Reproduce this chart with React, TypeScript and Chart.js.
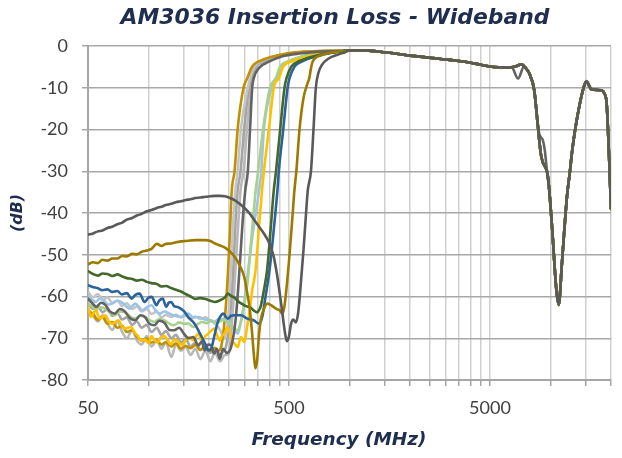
import { useEffect, useRef } from 'react';
import { Chart, registerables } from 'chart.js';

Chart.register(...registerables);

// ---------- texts ----------
const chartTitle = 'AM3036 Insertion Loss - Wideband';
const xAxisTitle = 'Frequency (MHz)';
const yAxisTitle = '(dB)';

// ---------- axes ----------
const xMin = 50;
const xMax = 20000;
const xGridValues = [50, 100, 150, 200, 250, 300, 350, 400, 450, 500, 1000, 1500, 2000, 2500, 3000, 3500, 4000, 4500, 5000, 10000, 15000, 20000];
const xLabelValues = [50, 500, 5000];
const yMin = -80;
const yMax = 0;
const yStep = 10;

type Pt = [number, number];

// ---------- shared upper band (all units nearly identical above ~1 GHz) ----------
const passbandShared: Pt[] = [
  [1000, -1.05], [1120, -1.0], [1250, -1.1], [1500, -1.5], [1750, -1.9], [2000, -2.3], [2300, -2.6], [2600, -2.9],
  [3000, -3.2], [3500, -3.6], [4000, -4.0], [4500, -4.5], [5000, -4.9], [5600, -5.1], [6200, -5.2], [6700, -4.9],
  [7155, -4.4], [7500, -5.2], [7850, -6.6], [8300, -10.6], [8630, -18.6], [8790, -22.5], [8950, -25.8], [9150, -27.8],
  [9370, -28.8], [9650, -30.5], [9830, -33.8], [10200, -44], [10700, -58.5], [10990, -62], [11400, -52], [12080, -36],
  [12500, -30], [12770, -25.8], [13500, -17.8], [14830, -9.0], [15110, -8.6], [15980, -10.4], [17870, -10.6],
  [18550, -11.4], [19030, -13.8], [19620, -28], [20000, -39],
];
const passbandAlt: Pt[] = [
  [1000, -1.05], [1120, -1.0], [1250, -1.1], [1500, -1.5], [1750, -1.9], [2000, -2.3], [2300, -2.6], [2600, -2.9],
  [3000, -3.2], [3500, -3.6], [4000, -4.0], [4500, -4.5], [5000, -4.9], [5600, -5.1], [6400, -5.1], [6900, -7.8],
  [7370, -5.0], [7600, -5.6], [7900, -6.9], [8300, -10.6], [8630, -18.2], [8790, -21], [8950, -21.8], [9150, -22.5],
  [9370, -25], [9650, -31], [9830, -33.8], [10200, -44], [10700, -58.5], [10990, -62], [11400, -52], [12080, -36],
  [12500, -30], [12770, -25.8], [13500, -17.8], [14830, -9.0], [15110, -8.4], [15980, -10.2], [17870, -10.6],
  [18550, -11.4], [19030, -13.8], [19620, -28], [20000, -39],
];

// ---------- per-unit lower band / cut-off edge ----------
const darkGrayRight: Pt[] = [
  [50, -45.2], [53, -44.9], [56, -44.4], [59, -44.2], [62.5, -43.6], [66, -43.3], [70, -42.7], [74, -42.3], [78, -41.6],
  [83, -41.2], [87.5, -40.6], [92.5, -40.2], [98, -39.6], [103.5, -39.3], [110, -38.8], [116, -38.5], [122, -38.1],
  [130, -37.8], [137, -37.4], [145, -37.2], [153, -36.9], [162, -36.7], [171, -36.4], [181, -36.3], [192, -36.1],
  [203, -36.0], [214, -35.9], [227, -35.9], [240, -36.0], [254, -36.4], [268, -36.9], [284, -37.8], [300, -38.8],
  [317, -40.0], [335, -41.6], [355, -43.3], [375, -44.9], [397, -47.0], [420, -50.5], [435, -54.5], [450, -59.3],
  [465, -64.5], [478, -68.8], [488, -70.7], [500, -69.5], [512, -66.5], [525, -65.5], [540, -66.2], [555, -64],
  [570, -58], [590, -49], [608, -40], [620, -34.6], [643, -30], [662, -20], [680, -10], [700, -6.5], [730, -4.5],
  [787, -3.0], [883, -2.0], [950, -1.5],
];
const darkGoldRight: Pt[] = [
  [50, -52.3], [53, -51.8], [56, -52.0], [59, -51.2], [62.5, -51.4], [66, -50.9], [70, -50.9], [74, -50.3], [78, -50.4],
  [83, -49.8], [87.5, -49.9], [92.5, -49.3], [98, -49.0], [103.5, -48.6], [110, -47.4], [116, -47.9], [122, -47.4],
  [130, -47.3], [137, -47.0], [145, -46.8], [153, -46.7], [162, -46.6], [171, -46.5], [181, -46.5], [192, -46.5],
  [203, -46.7], [214, -47.3], [227, -47.8], [240, -48.3], [254, -49.2], [268, -50.5], [284, -52.5], [300, -55.5],
  [308, -58.5], [318, -62.5], [328, -69], [334, -73.7], [340, -77.2], [347, -75.3], [355, -69], [362, -65.5],
  [375, -63.0], [389, -61.7], [405, -62.0], [419, -62.5], [435, -63.0], [450, -63.3], [462, -64.1], [474, -62.5],
  [486, -58], [503, -50], [520, -41], [532, -34.6], [544, -30], [564, -20], [590, -12.5], [620, -8.8], [631, -7.7],
  [645, -5], [656, -3.7], [690, -2.6], [734, -2.1], [800, -1.6], [883, -1.35], [950, -1.2],
];
const darkGreen: Pt[] = [
  [50, -53.9], [53, -54.6], [56, -55.0], [59, -54.5], [62.5, -54.6], [66, -55.1], [70, -54.7], [74, -55.2], [78, -55.6],
  [83, -55.8], [87.5, -56.2], [92.5, -56.0], [98, -56.5], [103.5, -56.8], [110, -57.0], [116, -57.6], [122, -57.5],
  [130, -58.0], [137, -58.4], [145, -58.8], [153, -59.4], [162, -60.0], [171, -60.6], [181, -60.4], [192, -60.6],
  [203, -61.0], [214, -61.3], [227, -60.9], [240, -60.2], [248, -59.3], [258, -59.9], [268, -60.3], [280, -61.2],
  [290, -61.7], [305, -62.3], [323, -62.7], [335, -63.4], [347, -63.8], [355, -63.2], [362, -62.3], [375, -58.5],
  [389, -53.7], [405, -44], [420, -34.6], [431, -30], [452, -20], [475, -10], [486, -7.7], [514, -4.9], [564, -3.6],
  [656, -2.5], [761, -1.8], [900, -1.3],
];
const blue: Pt[] = [
  [50, -57.3], [52.7, -57.7], [56, -58.0], [58.9, -58.5], [62.5, -58.3], [66, -58.9], [70, -58.7], [73.6, -59.5],
  [78, -59.2], [82.4, -60.5], [86, -59.6], [90.3, -59.3], [95.5, -61.3], [100, -60.3], [103.6, -60.1], [109.6, -62.1],
  [113, -61.0], [117.6, -60.5], [122.6, -62.5], [126, -61.5], [129.8, -61.3], [134, -62.3], [139.7, -62.5], [150, -63.5],
  [158, -65.0], [168, -66.3], [177, -68.1], [184, -69.7], [191, -71.2], [198, -72.9], [205, -72.5], [212, -69.7],
  [220, -66.5], [227, -64.9], [235, -64.1], [248, -65.3], [258, -64.6], [268, -64.5], [289, -64.5], [310, -65.3],
  [334, -65.7], [354, -66.5], [368, -64.9], [382, -60.1], [400, -53.7], [420, -44], [438, -34.6], [445, -30],
  [468, -20], [492, -10], [503, -7.7], [533, -4.9], [586, -3.6], [680, -2.5], [780, -1.8], [900, -1.3],
];
const lightGreen: Pt[] = [
  [50, -61.7], [53, -62.5], [54.6, -63.3], [57, -62.6], [61, -62.9], [64, -63.8], [68, -64.5], [72, -63.6], [76, -63.7],
  [81, -64.8], [86, -65.3], [91, -64.6], [96, -64.9], [101, -65.6], [107, -66.1], [113, -65.4], [120, -65.7],
  [127, -66.5], [134, -66.9], [142, -66.2], [150, -66.5], [158, -66.5], [167, -67.3], [176, -66.6], [184, -66.1],
  [195, -66.4], [205, -65.7], [214, -66.1], [222, -66.1], [230, -65.8], [238, -65.7], [246, -66.0], [254, -66.5],
  [262, -67.2], [268, -67.7], [278, -68.1], [289, -65.7], [300, -61.7], [310.5, -56.9], [325, -46], [341.5, -34.6],
  [351, -30], [371.5, -20], [402, -10], [430, -7.7], [452, -4.9], [494, -3.7], [575, -2.5], [694, -1.75], [850, -1.35],
];
const lightBlue: Pt[] = [
  [50, -59.7], [52, -60.6], [54.6, -61.3], [57.4, -60.5], [60, -61.0], [63, -61.9], [66, -61.7], [70, -61.0], [73, -61.3],
  [77, -62.2], [80, -62.9], [83, -62.3], [86, -61.7], [90, -62.6], [93, -63.3], [98, -62.6], [103.5, -62.1], [108, -63.2],
  [113, -64.1], [120, -63.6], [127, -64.1], [135, -64.6], [145, -64.9], [152, -64.3], [158, -64.1], [167, -65.0],
  [177, -64.9], [188, -65.4], [198, -65.7], [212, -66.1], [226, -65.3], [237, -65.5], [248, -65.7], [258, -66.8],
  [268, -68.1], [278, -68.9], [286, -66.9], [297, -62.5], [307, -56.9], [330, -45], [355, -34.6], [364, -30],
  [375, -20], [411, -10], [435, -7.7], [460, -4.9], [503, -3.7], [588, -2.5], [700, -1.75], [850, -1.35],
];
const yellow: Pt[] = [
  [50, -62.5], [51.7, -64.9], [54.6, -63.3], [57.4, -65.3], [61, -64.5], [63.5, -66.0], [66, -66.5], [70.9, -65.7],
  [73.5, -67.0], [76, -67.7], [82, -67.3], [85, -68.5], [88, -69.3], [92, -70.6], [96, -70.3], [100, -71.2],
  [103.5, -69.5], [107, -70.4], [111, -71.0], [115, -69.8], [120, -69.5], [125, -70.6], [129, -71.5], [134, -70.4],
  [139, -70.5], [145, -71.6], [150, -71.2], [158, -69.7], [167, -70.5], [177, -68.9], [184, -70.5], [191, -69.6],
  [198, -68.9], [205, -68.2], [212, -67.7], [219, -69.2], [226, -70.5], [232, -69.5], [238, -68.9], [248, -67.3],
  [257, -69.7], [263, -70.8], [270, -71.5], [278, -72.1], [288, -69.7], [294, -70.3], [300, -70.9], [310, -67],
  [317, -64.1], [328, -58.5], [341, -53.7], [355, -43], [367, -34.6], [375, -30], [397, -20], [420, -10], [445, -7.7],
  [468, -4.9], [514, -3.7], [598, -2.8], [700, -2.0], [850, -1.5],
];
const goldLeft: Pt[] = [
  [50, -63.6], [53, -64.2], [56, -65.6], [59, -64.9], [62.5, -66.5], [66, -66.1], [70, -67.5], [74, -67.0], [78, -68.5],
  [83, -68.1], [87.5, -69.6], [92.5, -70.5], [98, -70.1], [103.5, -71.0], [110, -70.6], [116, -71.5], [122, -70.9],
  [130, -72.0], [137, -71.2], [145, -72.5], [153, -71.8], [162, -72.4], [171, -71.6], [181, -72.8], [192, -72.1],
  [203, -73.0], [214, -72.3], [222, -73.0], [230, -72.0], [240, -65], [248, -55], [254, -45], [259.6, -34.6],
  [268, -30], [277.6, -20], [297, -10], [310, -7.7], [328, -4.9], [354, -3.7], [416, -2.5], [494, -1.75], [598, -1.35],
  [716, -1.2], [850, -1.15],
];
const lightGray1: Pt[] = [
  [50, -58.8], [53, -60.2], [56, -59.4], [59, -60.8], [62.5, -60.2], [66, -61.5], [70, -61.0], [74, -62.3], [78, -61.6],
  [83, -63.0], [87.5, -62.4], [92.5, -63.6], [98, -63.0], [103.5, -64.2], [110, -63.6], [116, -65.0], [122, -64.4],
  [130, -64.9], [137, -64.3], [145, -65.0], [153, -64.6], [162, -65.3], [171, -64.8], [181, -65.4], [192, -65.0],
  [203, -65.8], [214, -66.5], [227, -68.0], [238, -70.0], [248, -66], [258, -52], [264, -42], [270.6, -34.6],
  [277.6, -30], [288, -20], [312, -10], [320, -7.7], [336, -5], [360, -3.7], [420, -2.5], [510, -1.75], [610, -1.35],
  [716, -1.2], [850, -1.15],
];
const gray: Pt[] = [
  [50, -61.5], [53, -63.0], [56, -62.2], [59, -63.8], [62.5, -63.0], [66, -64.6], [70, -64.0], [74, -65.5], [78, -65.0],
  [83, -66.8], [87.5, -66.0], [92.5, -67.5], [98, -66.8], [103.5, -68.5], [110, -67.5], [116, -69.2], [122, -68.3],
  [130, -70.0], [137, -69.2], [145, -71.0], [153, -70.2], [162, -72.0], [171, -71.0], [181, -72.8], [192, -71.8],
  [203, -73.5], [214, -72.5], [227, -74.0], [236, -73.0], [243, -72], [254, -65], [265, -52], [271, -42],
  [277.6, -34.6], [287, -30], [299, -20], [316, -10], [325, -7.7], [340, -5], [370, -3.7], [430, -2.5], [530, -1.75],
  [620, -1.35], [730, -1.2], [850, -1.15],
];
const lightGray2: Pt[] = [
  [50, -63.0], [53, -64.5], [56, -66.0], [59, -64.5], [62.5, -66.5], [66, -68.0], [70, -66.0], [74, -68.5], [78, -70.0],
  [83, -68.0], [87.5, -70.5], [92.5, -71.5], [98, -69.5], [103.5, -72.0], [110, -70.5], [116, -72.5], [122, -71.0],
  [130, -74.5], [137, -71.5], [145, -73.0], [153, -72.0], [162, -74.0], [171, -72.5], [181, -75.0], [192, -73.0],
  [203, -75.5], [214, -73.5], [227, -75.5], [240, -74.0], [250, -74.0], [262, -64], [272, -52], [280, -42],
  [287, -34.6], [297, -30], [309, -20], [323, -10], [330, -7.7], [345, -5], [380, -3.7], [440, -2.5], [550, -1.75],
  [640, -1.4], [740, -1.25], [850, -1.15],
];
const darkGrayLeft: Pt[] = [
  [50, -60.5], [53, -61.8], [55, -62.5], [58, -61.5], [61, -62.0], [64, -63.5], [68, -64.1], [72, -63.0], [76, -63.5],
  [81, -65.2], [86, -65.7], [91, -64.5], [96, -64.9], [101, -66.5], [107, -66.9], [113, -65.8], [120, -66.3],
  [127, -68.0], [134, -68.1], [142, -67.5], [150, -68.9], [158, -70.0], [167, -69.7], [177, -71.7], [184, -70.8],
  [190, -72.9], [198, -71.5], [205, -71.7], [212, -73.7], [219, -72.5], [226, -74.9], [235, -72.5], [245, -73.5],
  [258, -72], [272, -65], [285, -52], [294, -42], [303, -34.6], [312, -30], [320, -20], [328, -10], [334, -7.7],
  [354, -5.3], [400, -3.7], [460, -2.5], [575, -1.75], [680, -1.4], [761, -1.3], [880, -1.2],
];

// Chart.js paints the first dataset on top, so the list runs from top-most to bottom-most.
const seriesList = [
  { name: 'Unit 12', color: '#595959', low: darkGrayRight, high: passbandShared },
  { name: 'Unit 11', color: '#9C7A00', low: darkGoldRight, high: passbandShared },
  { name: 'Unit 10', color: '#43682B', low: darkGreen, high: passbandShared },
  { name: 'Unit 9', color: '#2B6299', low: blue, high: passbandShared },
  { name: 'Unit 8', color: '#636363', low: darkGrayLeft, high: passbandAlt },
  { name: 'Unit 7', color: '#FFC000', low: yellow, high: passbandShared },
  { name: 'Unit 6', color: '#A9D18E', low: lightGreen, high: passbandShared },
  { name: 'Unit 5', color: '#9DC3E6', low: lightBlue, high: passbandShared },
  { name: 'Unit 4', color: '#BF9000', low: goldLeft, high: passbandShared },
  { name: 'Unit 3', color: '#C4C4C4', low: lightGray1, high: passbandShared },
  { name: 'Unit 2', color: '#A5A5A5', low: gray, high: passbandShared },
  { name: 'Unit 1', color: '#B8B8B8', low: lightGray2, high: passbandShared },
];

const TITLE_FONT = '"DejaVu Sans"';
const TICK_FONT = 'Lato';
const TITLE_COLOR = '#1F2D4E';

function fitText(ctx: CanvasRenderingContext2D, text: string, x: number, y: number, targetWidth: number, baseSize: number) {
  ctx.font = `italic bold ${baseSize}px ${TITLE_FONT}`;
  const w = ctx.measureText(text).width;
  const size = (baseSize * targetWidth) / w;
  ctx.font = `italic bold ${size}px ${TITLE_FONT}`;
  ctx.fillText(text, x, y);
}

const titlesPlugin = {
  id: 'customTitles',
  afterDraw(chart: Chart) {
    const ctx = chart.ctx;
    ctx.save();
    ctx.fillStyle = TITLE_COLOR;
    ctx.textAlign = 'center';
    ctx.textBaseline = 'middle';
    fitText(ctx, chartTitle, 335, 18, 429, 22);
    fitText(ctx, xAxisTitle, 339, 440, 175, 19);
    ctx.translate(18, 213);
    ctx.rotate(-Math.PI / 2);
    fitText(ctx, yAxisTitle, 0, 0, 38, 19);
    ctx.restore();
  },
};

export default function App() {
  const ref = useRef<HTMLCanvasElement>(null);
  useEffect(() => {
    const canvas = ref.current;
    if (!canvas) return;
    const chart = new Chart(canvas, {
      type: 'line',
      data: {
        datasets: seriesList.map((s) => ({
          label: s.name,
          data: [...s.low, ...s.high].map(([x, y]) => ({ x, y })),
          borderColor: s.color,
          backgroundColor: s.color,
          borderWidth: 2.6,
          pointRadius: 0,
          fill: false,
          cubicInterpolationMode: 'monotone' as const,
          borderJoinStyle: 'round' as const,
          borderCapStyle: 'round' as const,
        })),
      },
      options: {
        responsive: false,
        animation: false,
        devicePixelRatio: 1,
        layout: { padding: { top: 46, right: 1, bottom: 0, left: 0 } },
        plugins: {
          legend: { display: false },
          title: { display: false },
          tooltip: { enabled: false },
        },
        scales: {
          x: {
            type: 'logarithmic',
            min: xMin,
            max: xMax,
            position: 'bottom',
            afterBuildTicks: (scale: any) => {
              scale.ticks = xGridValues.map((v) => ({ value: v }));
            },
            afterFit: (scale: any) => {
              scale.height = 78;
            },
            ticks: {
              autoSkip: false,
              maxRotation: 0,
              minRotation: 0,
              padding: 11,
              color: '#404040',
              font: { family: TICK_FONT, size: 18 },
              callback: (v: any) => (xLabelValues.includes(Number(v)) ? String(v) : ''),
            },
            grid: { color: '#D0D0D0', lineWidth: 1.5, tickLength: 6, tickColor: '#A6A6A6' },
            border: { color: '#A6A6A6', width: 2 },
          },
          y: {
            type: 'linear',
            min: yMin,
            max: yMax,
            position: 'left',
            afterFit: (scale: any) => {
              scale.width = 88;
            },
            ticks: {
              stepSize: yStep,
              padding: 14,
              color: '#404040',
              font: { family: TICK_FONT, size: 18 },
            },
            grid: { color: '#A8A8A8', lineWidth: 1.5, tickLength: 6 },
            border: { color: '#A6A6A6', width: 2 },
          },
        },
      },
      plugins: [titlesPlugin],
    });
    return () => chart.destroy();
  }, []);
  return (
    <div style={{ position: 'absolute', left: 0, top: 0, width: 622, height: 458, background: '#ffffff' }}>
      <canvas ref={ref} width={622} height={458} style={{ display: 'block', width: 622, height: 458 }} />
    </div>
  );
}
